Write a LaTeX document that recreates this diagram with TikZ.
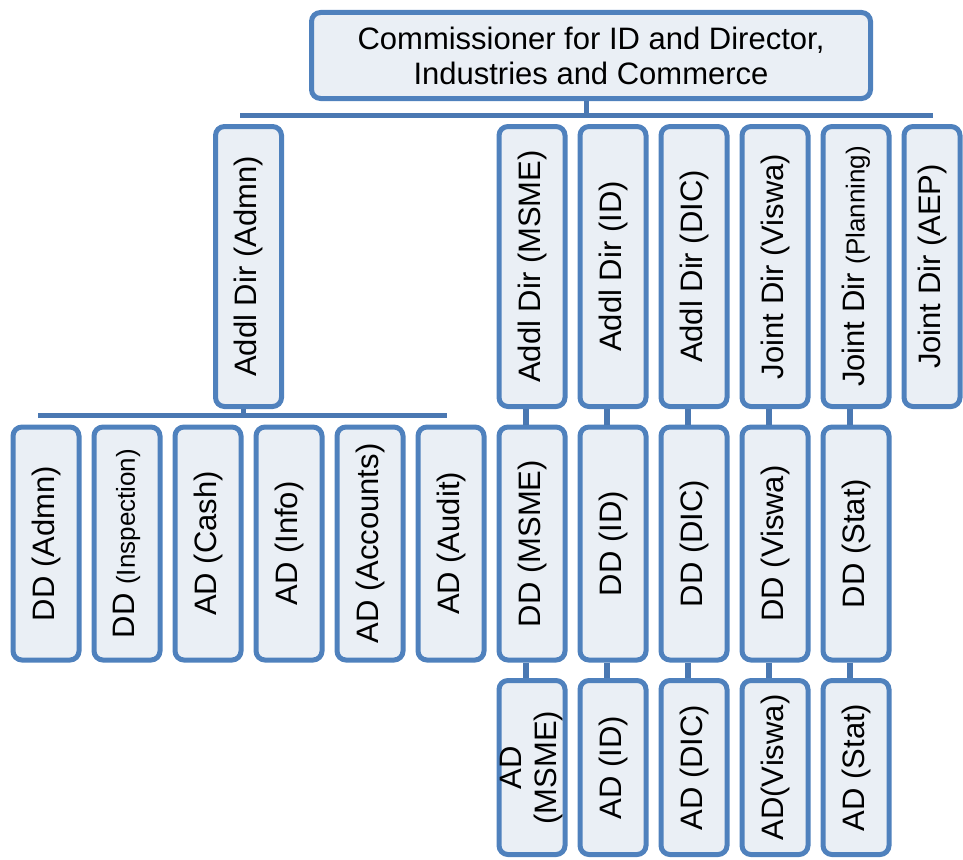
\documentclass[tikz,border=0pt]{standalone}
\usepackage{fontspec}
\setmainfont{Liberation Sans}
\definecolor{bordercol}{HTML}{4F81BD}
\definecolor{barcol}{HTML}{4A78B2}
\definecolor{fillcol}{HTML}{EAEFF5}
\tikzset{
  box/.style={draw=bordercol, line width=5pt, fill=fillcol, rounded corners=9pt,
    inner sep=0pt, align=center, text=black, font=\fontsize{31}{35}\selectfont},
  vbox/.style={box, rotate=90, minimum height=66pt},
  lvltwo/.style={vbox, minimum width=280pt},
  lvlthree/.style={vbox, minimum width=233pt},
  lvlfour/.style={vbox, minimum width=174pt},
  conn/.style={draw=barcol, line width=5pt},
  stubline/.style={draw=barcol, line width=6pt}
}
\newcommand{\smallpart}[1]{{\fontsize{26}{30}\selectfont #1}}
\begin{document}
\begin{tikzpicture}[x=1pt,y=-1pt]
\useasboundingbox (0,0) rectangle (963,859);

% top
\node[box, minimum width=559pt, minimum height=86pt] (top) at (591,55.5)
  {Commissioner for ID and Director,\\Industries and Commerce};

% level 2
\node[lvltwo] (admn) at (248.5,266.5) {Addl Dir (Admn)};
\node[lvltwo] (msme) at (532,266.5) {Addl Dir (MSME)};
\node[lvltwo] (id) at (613,266.5) {Addl Dir (ID)};
\node[lvltwo] (dic) at (694,266.5) {Addl Dir (DIC)};
\node[lvltwo] (viswa) at (775,266.5) {Joint Dir (Viswa)};
\node[lvltwo] (plan) at (856,266.5) {Joint Dir \smallpart{(Planning)}};
\node[lvltwo, minimum height=56pt] (aep) at (932,266.5) {Joint Dir (AEP)};

% level 3 left
\node[lvlthree] (ddadmn) at (46,543.5) {DD (Admn)};
\node[lvlthree] (ddinsp) at (127,543.5) {DD \smallpart{(Inspection)}};
\node[lvlthree] (adcash) at (208,543.5) {AD (Cash)};
\node[lvlthree] (adinfo) at (289,543.5) {AD (Info)};
\node[lvlthree] (adacc) at (370,543.5) {AD (Accounts)};
\node[lvlthree] (adaud) at (451,543.5) {AD (Audit)};

% level 3 right
\node[lvlthree] (ddmsme) at (532,543.5) {DD (MSME)};
\node[lvlthree] (ddid) at (613,543.5) {DD (ID)};
\node[lvlthree] (dddic) at (694,543.5) {DD (DIC)};
\node[lvlthree] (ddviswa) at (775,543.5) {DD (Viswa)};
\node[lvlthree] (ddstat) at (856,543.5) {DD (Stat)};

% level 4
\node[lvlfour] (admsme) at (532,767.5) {AD\\(MSME)};
\node[lvlfour] (adid) at (613,767.5) {AD (ID)};
\node[lvlfour] (addic) at (694,767.5) {AD (DIC)};
\node[lvlfour] (adviswa) at (775,767.5) {AD(Viswa)};
\node[lvlfour] (adstat) at (856,767.5) {AD (Stat)};

% bars
\coordinate (barAL) at (240,115);
\coordinate (barAR) at (933,115);
\draw[conn] (barAL) -- (barAR);
\draw[conn] ([xshift=-5pt]top.south) -- ([xshift=-5pt]top.south |- barAL);

\coordinate (barBL) at (38,415);
\coordinate (barBR) at (447,415);
\draw[conn] (barBL) -- (barBR);
\draw[conn] ([xshift=-5pt]admn.west) -- ([xshift=-5pt]admn.west |- barBL);

% stubs
\foreach \a/\b in {msme/ddmsme, id/ddid, dic/dddic, viswa/ddviswa, plan/ddstat,
                   ddmsme/admsme, ddid/adid, dddic/addic, ddviswa/adviswa, ddstat/adstat}
  \draw[stubline] ([xshift=-6pt]\a.west) -- ([xshift=-6pt]\b.east);
\end{tikzpicture}
\end{document}
